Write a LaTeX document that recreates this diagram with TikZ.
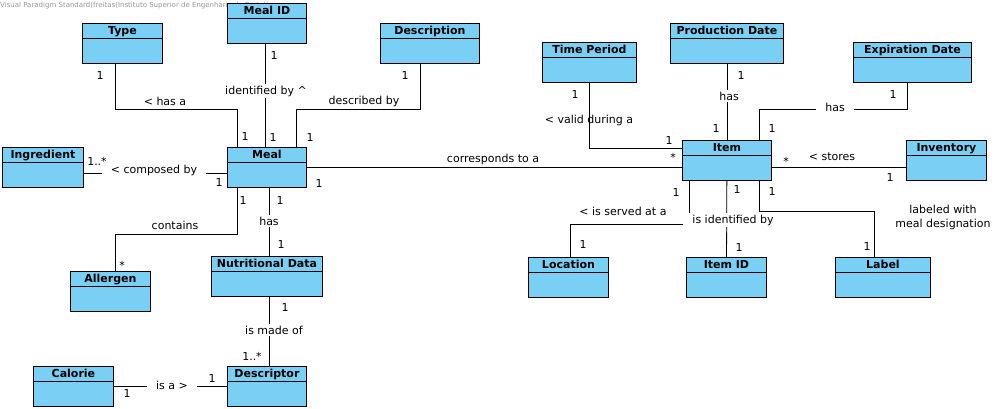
\documentclass[tikz,border=0pt]{standalone}
\usepackage{fontspec}
\setmainfont{DejaVu Sans}
\usepackage{xcolor}
\usetikzlibrary{positioning,calc}
\definecolor{vpblue}{RGB}{122,207,245}
\definecolor{vpgray}{RGB}{150,150,150}

\begin{document}
\begin{tikzpicture}[
  x=1pt,y=-1pt,
  font=\fontsize{11}{14}\selectfont,
  cls/.style={draw,fill=vpblue,line width=0.9pt,anchor=north west,inner sep=0pt,
    minimum width=#1,minimum height=40pt,
    path picture={\draw[line width=0.9pt]
      ([yshift=-15pt]path picture bounding box.north west) --
      ([yshift=-15pt]path picture bounding box.north east);}},
  ttl/.style={anchor=north,inner sep=0pt,yshift=-3.5pt,text height=8pt,text depth=2pt,
    font=\fontsize{11}{14}\selectfont\bfseries},
  assoc/.style={line width=0.8pt},
  txt/.style={inner sep=1pt,align=center},
  cut/.style={txt,fill=white,inner xsep=9pt,inner ysep=2pt},
  mult/.style={inner sep=0pt},
  ]
  \useasboundingbox (0,0) rectangle (1004,409);
  \node[anchor=west,inner sep=0pt,vpgray,font=\fontsize{7}{8}\selectfont] (wm) at (0,6)
    {Visual Paradigm Standard(freitas(Instituto Superior de Engenharia do Porto))};

  % meal side
  \node[cls=80,label={[ttl]north:Type}] (type) at (82,23) {};
  \node[cls=79,label={[ttl]north:Meal ID}] (mealid) at (227,3) {};
  \node[cls=99,label={[ttl]north:Description}] (desc) at (380,23) {};
  \node[cls=81,label={[ttl]north:Ingredient}] (ingredient) at (2,147) {};
  \node[cls=79,label={[ttl]north:Meal}] (meal) at (227,147) {};
  \node[cls=80,label={[ttl]north:Allergen}] (allergen) at (70,271) {};
  \node[cls=111,label={[ttl]north:Nutritional Data}] (nutr) at (211,256) {};
  \node[cls=80,label={[ttl]north:Calorie}] (calorie) at (33,366) {};
  \node[cls=79,label={[ttl]north:Descriptor}] (descriptor) at (227,366) {};

  % item side
  \node[cls=94,label={[ttl]north:Time Period}] (timeperiod) at (542,42) {};
  \node[cls=113,label={[ttl]north:Production Date}] (proddate) at (670,23) {};
  \node[cls=118,label={[ttl]north:Expiration Date}] (expdate) at (853,42) {};
  \node[cls=89,label={[ttl]north:Item}] (item) at (682,140) {};
  \node[cls=80,label={[ttl]north:Inventory}] (inventory) at (906,140) {};
  \node[cls=80,label={[ttl]north:Location}] (location) at (528,257) {};
  \node[cls=80,label={[ttl]north:Item ID}] (itemid) at (686,257) {};
  \node[cls=95,label={[ttl]north:Label}] (label) at (835,257) {};

  % associations
  \draw[assoc] ([xshift=-7pt]type.south) -- ++(0,46) -| ([xshift=10pt]meal.north west);
  \draw[assoc] ([xshift=-1.5pt]mealid.south) -- ([xshift=-1.5pt]meal.north);
  \draw[assoc] ([xshift=-9.5pt]desc.south) -- ++(0,46) -| ([xshift=-11pt]meal.north east);
  \draw[assoc] ([yshift=-5.5pt]ingredient.east) -- ([yshift=-5.5pt]meal.west);
  \draw[assoc] (meal.east) -- (meal.east -| item.west);
  \draw[assoc] ([xshift=10pt]meal.south west) -- ++(0,46) -| ([xshift=5pt]allergen.north);
  \draw[assoc] ([xshift=2.5pt]meal.south) -- ([xshift=2.5pt]nutr.north);
  \draw[assoc] ([xshift=2.5pt]nutr.south) -- ([xshift=2.5pt]descriptor.north);
  \draw[assoc] (calorie) -- (descriptor);
  \draw[assoc] (timeperiod.south) |- ([yshift=-8pt]item.north west);
  \draw[assoc] (proddate) -- (item);
  \draw[assoc] ([xshift=-5pt]expdate.south) -- ++(0,27) -| ([xshift=32.5pt]item.north);
  \draw[assoc] ([yshift=-7pt]item.east) -- ([yshift=-7pt]inventory.west);
  \draw[assoc] ([xshift=-37.5pt]item.south) -- ++(0,43) -| ([xshift=2pt]location.north);
  \draw[assoc] (item) -- (itemid);
  \draw[assoc] ([xshift=32.5pt]item.south) -- ++(0,30) -| ([xshift=-8.5pt]label.north);

  % association names
  \node[txt] (lbl-hasa) at (165,101) {< has a};
  \node[cut] (lbl-idby) at (266,91) {identified by \textasciicircum};
  \node[txt] (lbl-descby) at (364,101) {described by};
  \node[cut] (lbl-composed) at (154,170) {< composed by};
  \node[txt] (lbl-corr) at (493,159) {corresponds to a};
  \node[txt] (lbl-contains) at (175,225) {contains};
  \node[cut] (lbl-has) at (269,221) {has};
  \node[cut] (lbl-madeof) at (274,330) {is made of};
  \node[cut] (lbl-isa) at (172,385) {is a >};
  \node[txt] (lbl-valid) at (589,120) {< valid during a};
  \node[cut] (lbl-hasprod) at (729,96) {has};
  \node[cut] (lbl-hasexp) at (835,107) {has};
  \node[txt] (lbl-stores) at (832,157) {< stores};
  \node[txt] (lbl-served) at (623,211) {< is served at a};
  \node[cut] (lbl-itemid) at (733,220) {is identified by};
  \node[txt] (lbl-labeled) at (943,217) {labeled with\\meal designation};

  % multiplicities
  \node[mult] (m-type) at (100,75) {1};
  \node[mult] (m-mealid) at (274,55) {1};
  \node[mult] (m-desc) at (405,75) {1};
  \node[mult] (m-meal-t1) at (245,136) {1};
  \node[mult] (m-meal-t2) at (273,137) {1};
  \node[mult] (m-meal-t3) at (310,137) {1};
  \node[mult] (m-ingredient) at (97,161) {1..*};
  \node[mult] (m-meal-w) at (219,182) {1};
  \node[mult] (m-meal-e) at (319,183) {1};
  \node[mult] (m-meal-b1) at (243,200) {1};
  \node[mult] (m-meal-b2) at (280,200) {1};
  \node[mult] (m-allergen) at (122,265) {*};
  \node[mult] (m-nutr-t) at (281,244) {1};
  \node[mult] (m-nutr-b) at (285,307) {1};
  \node[mult] (m-descriptor-t) at (252,356) {1..*};
  \node[mult] (m-descriptor-w) at (212,378) {1};
  \node[mult] (m-calorie) at (127,393) {1};
  \node[mult] (m-timeperiod) at (575,94) {1};
  \node[mult] (m-proddate) at (741,75) {1};
  \node[mult] (m-expdate) at (893,94) {1};
  \node[mult] (m-item-t1) at (716,128) {1};
  \node[mult] (m-item-t2) at (772,128) {1};
  \node[mult] (m-item-w1) at (669,140) {1};
  \node[mult] (m-item-w2) at (673,157) {*};
  \node[mult] (m-item-e) at (786,161) {*};
  \node[mult] (m-inventory) at (890,177) {1};
  \node[mult] (m-item-b1) at (676,192) {1};
  \node[mult] (m-item-b2) at (737,189) {1};
  \node[mult] (m-item-b3) at (772,191) {1};
  \node[mult] (m-location) at (583,244) {1};
  \node[mult] (m-itemid) at (739,247) {1};
  \node[mult] (m-label) at (867,246) {1};
\end{tikzpicture}
\end{document}
